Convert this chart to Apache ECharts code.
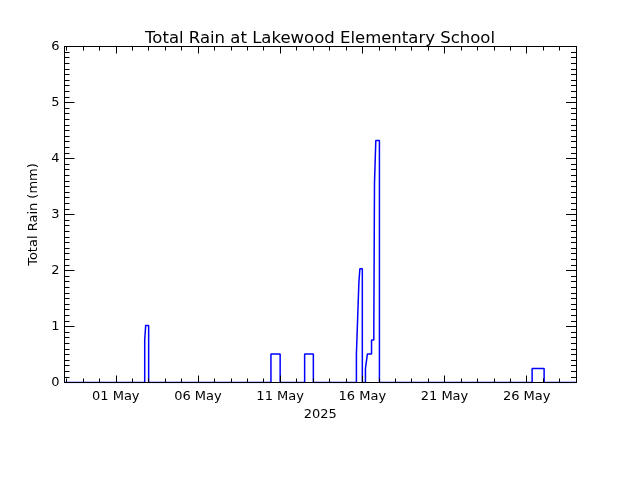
<!DOCTYPE html>
<html>
<head>
<meta charset="utf-8">
<title>Total Rain at Lakewood Elementary School</title>
<script src="https://cdn.jsdelivr.net/npm/echarts@6/dist/echarts.min.js"></script>
<style>
  html, body { margin: 0; background: #fff; }
  #main { width: 640px; height: 480px; }
</style>
</head>
<body>
<div id="main"></div>
<script>
// time in days since 01 May 2025 00:00, rain = running daily total (mm) from that moment
var dayOffsets = [-3.12, 1.76, 1.82, 2.0, 9.44, 10.0, 11.49, 12.02,
  14.64, 14.70, 14.79, 14.85, 15.0,
  15.19, 15.31, 15.56, 15.70, 15.74, 15.82, 16.04,
  25.33, 26.06, 28];
var rainMm = [0, 0.76, 1.02, 0, 0.51, 0, 0.51, 0,
  0.51, 1.02, 1.78, 2.03, 0,
  0.25, 0.51, 0.76, 1.02, 3.56, 4.32, 0,
  0.25, 0, 0];

var xMin = -3.12;
var xMax = 28;
var xMajor = [0, 5, 10, 15, 20, 25];
var xLabels = ['01 May', '06 May', '11 May', '16 May', '21 May', '26 May'];
var xMinor = [-3, -2, -1, 0, 1, 2, 3, 4, 5, 6, 7, 8, 9, 10, 11, 12, 13, 14,
  15, 16, 17, 18, 19, 20, 21, 22, 23, 24, 25, 26, 27, 28];
var yTicks = ['0', '1', '2', '3', '4', '5', '6'];

var black = '#000';
var font = 'DejaVu Sans';

// one x axis per tick set (major / minor), on bottom and top
function xAxisFor(position, ticks, len, withLabels) {
  return {
    type: 'value',
    position: position,
    min: xMin,
    max: xMax,
    z: 3,
    axisLine: { show: true, onZero: false, lineStyle: { color: black, width: 1 } },
    axisTick: { show: true, inside: true, length: len, customValues: ticks,
      lineStyle: { color: black, width: 1 } },
    axisLabel: withLabels ? {
      show: true, customValues: xMajor, margin: 8,
      color: black, fontFamily: font, fontSize: 13,
      formatter: function (v) { return xLabels[xMajor.indexOf(v)]; }
    } : { show: false },
    splitLine: { show: false },
    name: withLabels ? '2025' : '',
    nameLocation: 'middle',
    nameGap: 23,
    nameTextStyle: { color: black, fontFamily: font, fontSize: 13 }
  };
}

function yAxisFor(position, withLabels) {
  return {
    type: 'value',
    position: position,
    min: 0,
    max: 6,
    interval: 1,
    z: 3,
    axisLine: { show: true, onZero: false, lineStyle: { color: black, width: 1 } },
    axisTick: { show: true, inside: true, length: 10, lineStyle: { color: black, width: 1 } },
    minorTick: { show: true, splitNumber: 10, length: 5, lineStyle: { color: black, width: 1 } },
    axisLabel: withLabels ? {
      show: true, margin: 5, color: black, fontFamily: font, fontSize: 13,
      formatter: function (v) { return yTicks[Math.round(v)]; }
    } : { show: false },
    splitLine: { show: false },
    minorSplitLine: { show: false },
    name: withLabels ? 'Total Rain (mm)' : '',
    nameLocation: 'middle',
    nameGap: 21,
    nameTextStyle: { color: black, fontFamily: font, fontSize: 13 }
  };
}

var chart = echarts.init(document.getElementById('main'), null, { renderer: 'canvas' });

var points = dayOffsets.map(function (d, i) { return [d, rainMm[i]]; });

chart.setOption({
  animation: false,
  backgroundColor: '#fff',
  title: {
    text: 'Total Rain at Lakewood Elementary School',
    left: 'center',
    top: 25,
    textStyle: { color: black, fontFamily: font, fontSize: 16.5, fontWeight: 'normal' }
  },
  grid: { left: 64.5, right: 64, top: 46.5, bottom: 97.5 },
  xAxis: [
    xAxisFor('bottom', xMajor, 7, true),
    xAxisFor('bottom', xMinor, 4, false),
    xAxisFor('top', xMajor, 7, false),
    xAxisFor('top', xMinor, 4, false)
  ],
  yAxis: [
    yAxisFor('left', true),
    yAxisFor('right', false)
  ],
  series: [{
    type: 'line',
    xAxisIndex: 0,
    yAxisIndex: 0,
    step: 'end',
    symbol: 'none',
    data: points,
    lineStyle: { color: '#0000ff', width: 1.5 },
    z: 2
  }]
});
</script>
</body>
</html>
